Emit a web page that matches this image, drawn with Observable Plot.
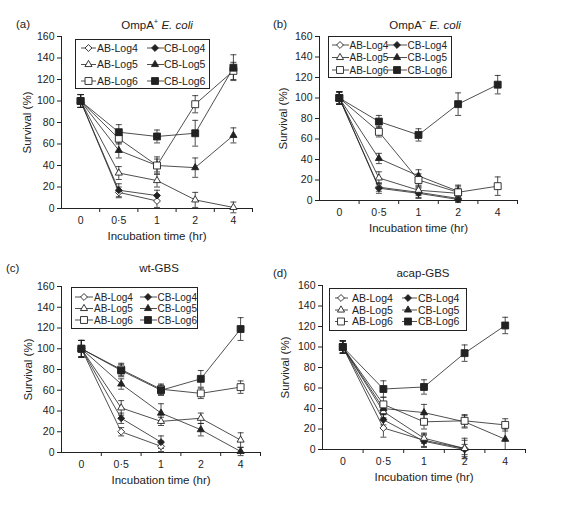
<!DOCTYPE html>
<html><head><meta charset="utf-8">
<script src="https://cdn.jsdelivr.net/npm/d3@7"></script>
<script src="https://cdn.jsdelivr.net/npm/@observablehq/plot@0.6"></script>
<style>
body{margin:0;background:#fff;}
#root{position:relative;width:561px;height:509px;font-family:"Liberation Sans",Arial,sans-serif;color:#222;overflow:hidden;}
.abs{position:absolute;white-space:nowrap;}
</style></head><body><div id="root"></div>
<script>
// ---- data ----
const times = ["0", "0·5", "1", "2", "4"];
const seriesNames = ["AB-Log4", "CB-Log4", "AB-Log5", "CB-Log5", "AB-Log6", "CB-Log6"];
const yTicks = [0, 20, 40, 60, 80, 100, 120, 140, 160];
const xLabel = "Incubation time (hr)";
const yLabel = "Survival (%)";

// Panel (a) OmpA+ E. coli
const meanA = [
  [100, 15, 7, null, null],
  [100, 17, 12, null, null],
  [100, 33, 26, 8, 1],
  [100, 54, 40, 38, 68],
  [100, 65, 40, 97, 128],
  [100, 71, 67, 70, 131]
];
const errA = [
  [6, 5, 6, null, null],
  [6, 6, 5, null, null],
  [6, 6, 6, 7, 5],
  [6, 7, 6, 9, 7],
  [6, 5, 8, 8, 8],
  [6, 7, 6, 12, 12]
];
// Panel (b) OmpA- E. coli
const meanB = [
  [100, 13, 8, 2, null],
  [100, 12, 7, 1, null],
  [100, 22, 10, 7, null],
  [100, 41, 24, 9, null],
  [100, 67, 20, 8, 14],
  [100, 77, 64, 94, 113]
];
const errB = [
  [6, 4, 5, 3, null],
  [6, 5, 5, 3, null],
  [6, 6, 5, 5, null],
  [6, 5, 6, 6, null],
  [6, 5, 6, 6, 9],
  [6, 6, 6, 11, 9]
];
// Panel (c) wt-GBS
const meanC = [
  [100, 20, 6, null, null],
  [100, 33, 10, null, null],
  [100, 43, 30, 33, 12],
  [100, 66, 38, 22, 1],
  [100, 80, 61, 57, 63],
  [100, 79, 60, 71, 119]
];
const errC = [
  [8, 4, 5, null, null],
  [8, 5, 6, null, null],
  [8, 7, 4, 5, 7],
  [8, 5, 9, 6, 4],
  [8, 6, 5, 5, 6],
  [8, 6, 5, 8, 11]
];
// Panel (d) acap-GBS
const meanD = [
  [100, 21, 9, 1, null],
  [100, 29, 8, 0, null],
  [100, 37, 11, 1, null],
  [100, 40, 36, 27, 10],
  [100, 44, 27, 28, 24],
  [100, 59, 61, 94, 121]
];
const errD = [
  [6, 9, 6, 10, null],
  [6, 5, 6, 5, null],
  [6, 6, 5, 8, null],
  [6, 6, 8, 6, 10],
  [6, 7, 7, 6, 6],
  [6, 8, 7, 8, 8]
];

// ---- styles ----
const ink = "#222";
const font = '"Liberation Sans", Arial, sans-serif';
const seriesStyles = [
  {symbol: "diamond2", r: 3.1, fill: "#fff"},
  {symbol: "diamond2", r: 3.1, fill: ink},
  {symbol: "triangle2", r: 3.4, fill: "#fff"},
  {symbol: "triangle2", r: 3.4, fill: ink},
  {symbol: "square2", r: 4.4, fill: "#fff"},
  {symbol: "square2", r: 4.4, fill: ink}
];
const d3Symbols = {diamond2: d3.symbolDiamond2, triangle2: d3.symbolTriangle2, square2: d3.symbolSquare2};
const cap = {draw(ctx) { ctx.moveTo(-3, 0); ctx.lineTo(3, 0); }};

const root = document.getElementById("root");

function addText(html, left, top, opts = {}) {
  const d = document.createElement("div");
  d.className = "abs";
  d.innerHTML = html;
  d.style.left = left + "px";
  d.style.top = top + "px";
  d.style.fontSize = (opts.size || 11) + "px";
  d.style.lineHeight = "1";
  d.style.transform = opts.center ? "translate(-50%,-50%)" : "translate(0,-50%)";
  root.appendChild(d);
}

function panel(cfg) {
  const {x0, x1, y0, y1, means, errs} = cfg;
  const rows = [];
  seriesNames.forEach((s, si) => means[si].forEach((v, ti) => {
    if (v != null) rows.push({series: s, si, t: ti + 0.5, v, lo: v - errs[si][ti], hi: v + errs[si][ti]});
  }));
  const mL = 50, mT = 12, mR = 8, mB = 42;
  const chart = Plot.plot({
    width: x1 - x0 + mL + mR,
    height: y1 - y0 + mT + mB,
    marginLeft: mL, marginTop: mT, marginRight: mR, marginBottom: mB,
    style: {fontFamily: font, background: "transparent", color: ink, overflow: "visible"},
    x: {domain: [0, times.length], axis: null},
    y: {domain: [0, 160], axis: null},
    marks: [
      Plot.axisY({ticks: yTicks, tickSize: 4, tickPadding: 3, fontSize: 10.5, label: null, stroke: ink}),
      Plot.axisX({ticks: d3.range(1, times.length + 1), tickSize: 4, tickFormat: () => "", label: null, stroke: ink}),
      Plot.axisX({ticks: times.map((_, i) => i + 0.5), tickSize: 0, tickPadding: 8, tickFormat: d => times[Math.floor(d)], fontSize: 10.5, label: null}),
      Plot.ruleY([0], {stroke: ink, strokeWidth: 1}),
      Plot.ruleX([0], {stroke: ink, strokeWidth: 1}),
      Plot.text([yLabel], {text: d => d, frameAnchor: "left", dx: cfg.ylabDx, rotate: -90, textAnchor: "middle", fontSize: 11.5, fill: ink}),
      Plot.text([xLabel], {text: d => d, frameAnchor: "bottom", dy: 28, lineAnchor: "middle", fontSize: 11.5, fill: ink}),
      Plot.line(rows, {x: "t", y: "v", z: "series", stroke: ink, strokeWidth: 0.8}),
      Plot.ruleX(rows, {x: "t", y1: "lo", y2: "hi", stroke: ink, strokeWidth: 0.8}),
      Plot.dot(rows, {x: "t", y: "lo", symbol: cap, r: 2, stroke: ink, fill: "none", strokeWidth: 0.8}),
      Plot.dot(rows, {x: "t", y: "hi", symbol: cap, r: 2, stroke: ink, fill: "none", strokeWidth: 0.8}),
      ...seriesStyles.map((st, si) => Plot.dot(rows.filter(r => r.si === si), {
        x: "t", y: "v", symbol: st.symbol, r: st.r, fill: st.fill, stroke: ink, strokeWidth: 0.9
      }))
    ]
  });
  chart.style.position = "absolute";
  chart.style.left = (x0 - mL) + "px";
  chart.style.top = (y0 - mT) + "px";
  root.appendChild(chart);

  // legend
  const L = cfg.legend;
  const div = document.createElement("div");
  div.className = "abs";
  Object.assign(div.style, {left: L.left + "px", top: L.top + "px", width: L.w + "px", height: L.h + "px",
    border: "1px solid " + ink, boxSizing: "border-box", background: "#fff"});
  const svg = d3.create("svg").attr("width", L.w - 2).attr("height", L.h - 2)
    .style("position", "absolute").style("left", "0").style("top", "0").style("overflow", "visible");
  seriesStyles.forEach((st, i) => {
    const c = L.cols[i % 2], y = L.rows[Math.floor(i / 2)] - 1;
    svg.append("line").attr("x1", c.l0).attr("x2", c.l1).attr("y1", y).attr("y2", y).attr("stroke", ink).attr("stroke-width", 0.8);
    svg.append("path").attr("d", d3.symbol(d3Symbols[st.symbol], st.r * st.r * Math.PI)())
      .attr("transform", `translate(${c.m},${y})`).attr("fill", st.fill).attr("stroke", ink).attr("stroke-width", 0.9);
    svg.append("text").attr("x", c.t).attr("y", y).attr("dy", "0.35em").attr("font-size", L.fs || 10.5)
      .attr("font-family", font).attr("fill", ink).text(seriesNames[i]);
  });
  div.appendChild(svg.node());
  root.appendChild(div);

  addText(cfg.tag, cfg.tagX, cfg.titleY, {size: 11.5});
  addText(cfg.title, cfg.titleX, cfg.titleY, {size: 11.5, center: true});
}

panel({x0: 61, x1: 252, y0: 36, y1: 208, means: meanA, errs: errA, ylabDx: -34,
  tag: "(a)", tagX: 16, title: "OmpA<sup style='font-size:7.5px;vertical-align:5px'>+</sup> <i>E. coli</i>", titleX: 157, titleY: 25,
  legend: {left: 75, top: 39, w: 135, h: 50, rows: [9, 25.5, 42],
    cols: [{l0: 5, l1: 20, m: 12.5, t: 21}, {l0: 71, l1: 88, m: 79, t: 88}]}});
panel({x0: 319, x1: 517, y0: 36, y1: 200, means: meanB, errs: errB, ylabDx: -36,
  tag: "(b)", tagX: 273, title: "OmpA<sup style='font-size:7.5px;vertical-align:5px'>−</sup> <i>E. coli</i>", titleX: 425, titleY: 25,
  legend: {left: 328, top: 36, w: 124, h: 42, fs: 10, rows: [9, 21.5, 34],
    cols: [{l0: 3, l1: 20, m: 11, t: 20.5}, {l0: 58, l1: 78, m: 68, t: 78.5}]}});
panel({x0: 61, x1: 260, y0: 286, y1: 452, means: meanC, errs: errC, ylabDx: -33,
  tag: "(c)", tagX: 6, title: "wt-GBS", titleX: 159, titleY: 269,
  legend: {left: 71, top: 287, w: 127, h: 42, fs: 10, rows: [10, 21.5, 33],
    cols: [{l0: 3, l1: 21, m: 12, t: 22}, {l0: 68, l1: 85, m: 76, t: 85.5}]}});
panel({x0: 322, x1: 525, y0: 285, y1: 449, means: meanD, errs: errD, ylabDx: -37,
  tag: "(d)", tagX: 273, title: "acap-GBS", titleX: 423, titleY: 274,
  legend: {left: 329, top: 288, w: 138, h: 43, rows: [10, 22, 33.5],
    cols: [{l0: 5, l1: 18, m: 11, t: 22}, {l0: 72, l1: 87, m: 78, t: 88}]}});
</script>
</body></html>
